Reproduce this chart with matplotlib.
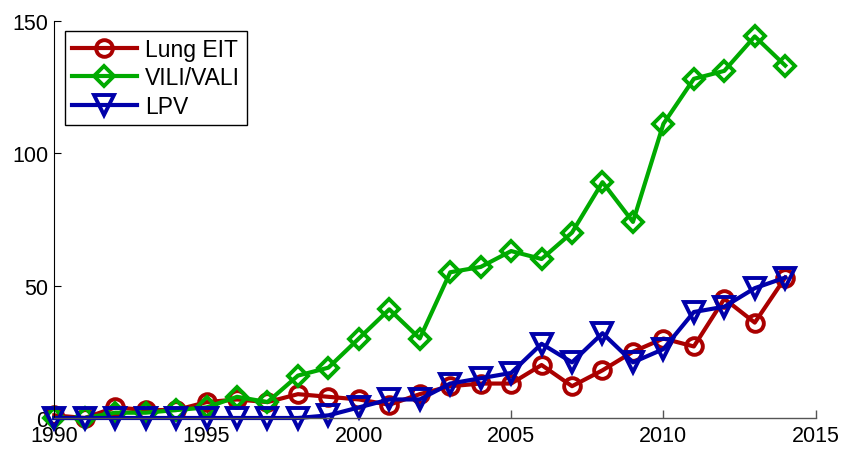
import numpy as np
import matplotlib
matplotlib.use('Agg')
import matplotlib.pyplot as plt

plt.rcParams.update({
    'font.family': ['Liberation Sans', 'DejaVu Sans'],
    'font.size': 15.5,
})

# ── Data ─────────────────────────────────────────────────────────────────────
years = list(range(1990, 2015))
lung_eit = [1, 0, 4, 3, 3, 6, 7, 6, 9, 8, 7, 5, 9, 12, 13, 13,
            20, 12, 18, 25, 30, 27, 45, 36, 53]
vili_vali = [0, 0, 2, 2, 3, 4, 8, 6, 16, 19, 30, 41, 30, 55, 57, 63,
             60, 70, 89, 74, 111, 128, 131, 144, 133]
lpv = [0, 0, 0, 0, 0, 0, 0, 0, 0, 1, 4, 7, 7, 13, 15, 17,
       28, 21, 32, 21, 26, 40, 42, 49, 53]

series = [
    ('Lung EIT',  lung_eit,  '#AA0000', 'o', 12),
    ('VILI/VALI', vili_vali, '#00AA00', 'D', 10.5),
    ('LPV',       lpv,       '#0000AA', 'v', 14),
]

# ── Figure ───────────────────────────────────────────────────────────────────
fig = plt.figure(figsize=(8.43, 4.52), dpi=100)
ax = fig.add_axes([0.0644, 0.073, 0.9032, 0.8794])

for label, vals, color, marker, ms in series:
    ax.plot(years, vals, color=color, lw=3, marker=marker, ms=ms,
            mfc='none', mec=color, mew=2.8, label=label, clip_on=False)

ax.set_xlim(1990, 2015)
ax.set_ylim(0, 150)
ax.set_xticks([1990, 1995, 2000, 2005, 2010, 2015])
ax.set_yticks([0, 50, 100, 150])

for side in ('top', 'right'):
    ax.spines[side].set_visible(False)
ax.spines['left'].set_color('black')
ax.spines['left'].set_linewidth(0.8)
ax.spines['bottom'].set_color('#555555')
ax.spines['bottom'].set_linewidth(1.0)
ax.tick_params(axis='x', direction='in', length=6, width=1.0,
               color='#555555', pad=5)
ax.tick_params(axis='y', direction='in', length=5, width=0.8,
               color='black', pad=4.5)

leg = ax.legend(loc='upper left', bbox_to_anchor=(0.014, 0.974),
                borderaxespad=0, fancybox=False, framealpha=1,
                edgecolor='black', handlelength=2.85, handletextpad=0.35,
                borderpad=0.3, labelspacing=0.25, fontsize=16.5)
leg.get_frame().set_linewidth(1.0)

fig.savefig('out.png', dpi=100)
